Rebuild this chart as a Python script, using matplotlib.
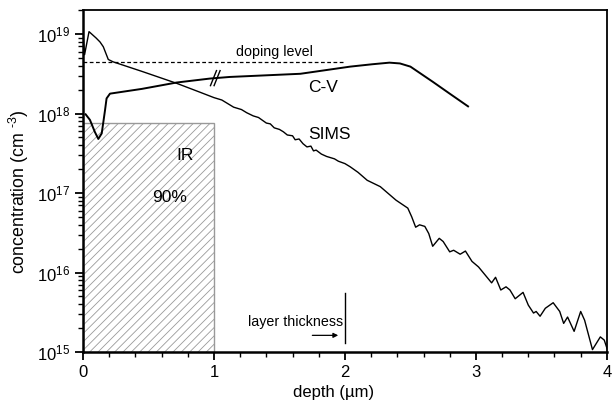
import numpy as np
import matplotlib.pyplot as plt
import matplotlib.transforms as mtransforms
from matplotlib.patches import Rectangle

plt.rcParams['font.family'] = ['Liberation Sans', 'DejaVu Sans']
plt.rcParams['mathtext.fontset'] = 'custom'
plt.rcParams['mathtext.rm'] = 'Liberation Sans'
plt.rcParams['mathtext.it'] = 'Liberation Sans:italic'
plt.rcParams['mathtext.bf'] = 'Liberation Sans:bold'
plt.rcParams['hatch.linewidth'] = 0.6
plt.rcParams['hatch.color'] = '#888888'

# SIMS profile: depth (um), log10 concentration
sims_x = [0.0, 0.012, 0.046, 0.10, 0.13, 0.155, 0.193, 0.23, 0.45, 0.715, 0.89, 1.0, 1.06,
          1.10, 1.15, 1.21, 1.25, 1.30, 1.34, 1.40, 1.43, 1.46, 1.50, 1.53, 1.56, 1.60, 1.62,
          1.65, 1.68, 1.71, 1.74, 1.76, 1.78, 1.82, 1.86, 1.92, 1.95, 2.00, 2.04, 2.10,
          2.17, 2.27, 2.39, 2.48, 2.51, 2.54, 2.57, 2.61, 2.64, 2.67, 2.72,
          2.75, 2.80, 2.83, 2.88, 2.92, 2.97, 3.02, 3.08, 3.12, 3.15, 3.19, 3.23, 3.26,
          3.30, 3.36, 3.40, 3.44, 3.46, 3.49, 3.53, 3.59, 3.64, 3.67, 3.70, 3.75, 3.80,
          3.83, 3.89, 3.95, 3.98, 4.0]
sims_log = [19.0, 18.74, 19.03, 18.95, 18.90, 18.84, 18.68, 18.65, 18.53, 18.38, 18.27, 18.20,
            18.17, 18.13, 18.08, 18.05, 18.01, 17.97, 17.95, 17.88, 17.87, 17.82, 17.80,
            17.77, 17.73, 17.72, 17.67, 17.68, 17.62, 17.58, 17.59, 17.53, 17.54, 17.49,
            17.46, 17.43, 17.40, 17.37, 17.33, 17.26, 17.16, 17.08, 16.91, 16.81, 16.70,
            16.57, 16.60, 16.58, 16.49, 16.33, 16.43, 16.39, 16.26, 16.28, 16.23, 16.27,
            16.14, 16.07, 15.95, 15.87, 15.94, 15.78, 15.82, 15.78, 15.67, 15.75, 15.59,
            15.49, 15.51, 15.45, 15.55, 15.62, 15.51, 15.36, 15.44, 15.26, 15.51, 15.40,
            15.03, 15.19, 15.15, 15.05]

# C-V profile
cv_x = [0.02, 0.053, 0.09, 0.117, 0.143, 0.168, 0.18, 0.206, 0.45, 0.715, 0.97, 1.12, 1.66,
        2.04, 2.21, 2.34, 2.42, 2.50, 2.67, 2.80, 2.94]
cv_log = [17.99, 17.92, 17.77, 17.68, 17.75, 18.04, 18.19, 18.25, 18.31, 18.39, 18.44, 18.46,
          18.50, 18.59, 18.62, 18.64, 18.63, 18.59, 18.40, 18.25, 18.09]

doping_level = 4.4e18
doping_end = 2.0
ir_depth = 1.0
ir_top = 7.6e17
layer_thickness = 2.0
break_x = 1.01

fig = plt.figure(figsize=(6.13, 4.04), dpi=100)
ax = fig.add_axes([0.1354, 0.1287, 0.8546, 0.8463])

ax.add_patch(Rectangle((0, 1e15), ir_depth, ir_top - 1e15, facecolor='white',
                       edgecolor='#999999', hatch='////', linewidth=1.0, zorder=1))

ax.plot(sims_x, 10 ** np.array(sims_log), color='black', lw=1.0, zorder=3)
ax.plot(cv_x, 10 ** np.array(cv_log), color='black', lw=1.4, zorder=3)
ax.plot([0, doping_end], [doping_level, doping_level], color='black', lw=0.9,
        dashes=(3, 2), zorder=2)

# break marks on the C-V curve (sizes in inches around the break point)
break_y = 10 ** np.interp(break_x, cv_x, cv_log)
brk = fig.dpi_scale_trans + mtransforms.ScaledTranslation(break_x, break_y, ax.transData)
for dx in (-0.018, 0.018):
    ax.plot([dx - 0.03, dx + 0.03], [-0.075, 0.075], color='black', lw=1.0,
            transform=brk, zorder=4)

# layer thickness marker
ax.plot([layer_thickness, layer_thickness], [1.3e15, 5.5e15], color='black', lw=1.0)
ax.annotate('', xy=(layer_thickness - 0.03, 1.62e15), xytext=(layer_thickness - 0.27, 1.62e15),
            arrowprops=dict(arrowstyle='-|>', color='black', lw=0.9, mutation_scale=7))
ax.text(layer_thickness - 0.015, 2.4e15, 'layer thickness', ha='right', va='center',
        fontsize=10.3)

ax.text(1.46, 5.9e18, 'doping level', ha='center', va='center', fontsize=10.3)
ax.text(1.83, 2.1e18, 'C-V', ha='center', va='center', fontsize=12.5)
ax.text(1.88, 5.5e17, 'SIMS', ha='center', va='center', fontsize=12.5)
ax.text(0.78, 3.0e17, 'IR', ha='center', va='center', fontsize=12.5)
ax.text(0.66, 8.9e16, '90%', ha='center', va='center', fontsize=12.5)

ax.set_yscale('log')
ax.set_xlim(0, 4)
ax.set_ylim(1e15, 2.0e19)
ax.set_xticks([0, 1, 2, 3, 4])
ax.set_xticks(np.arange(0, 4.01, 0.2), minor=True)
ax.set_yticks([1e15, 1e16, 1e17, 1e18, 1e19])
ax.set_yticklabels([r'$10^{15}$', r'$10^{16}$', r'$10^{17}$', r'$10^{18}$', r'$10^{19}$'])
ax.tick_params(which='major', direction='out', length=6, width=1.3, labelsize=12)
ax.tick_params(which='minor', direction='out', length=3.5, width=1.0)
ax.tick_params(axis='y', which='minor', labelleft=False)

for side in ('left', 'bottom'):
    ax.spines[side].set_linewidth(1.8)
for side in ('top', 'right'):
    ax.spines[side].set_linewidth(1.3)

ax.set_xlabel('depth (µm)', fontsize=12)
ax.set_ylabel(r'concentration (cm $^{\text{-3}}$)', fontsize=12.8)
ax.xaxis.set_label_coords(0.479, -0.097)
ax.yaxis.set_label_coords(-0.099, 0.468)

fig.savefig('out.png', dpi=100)
